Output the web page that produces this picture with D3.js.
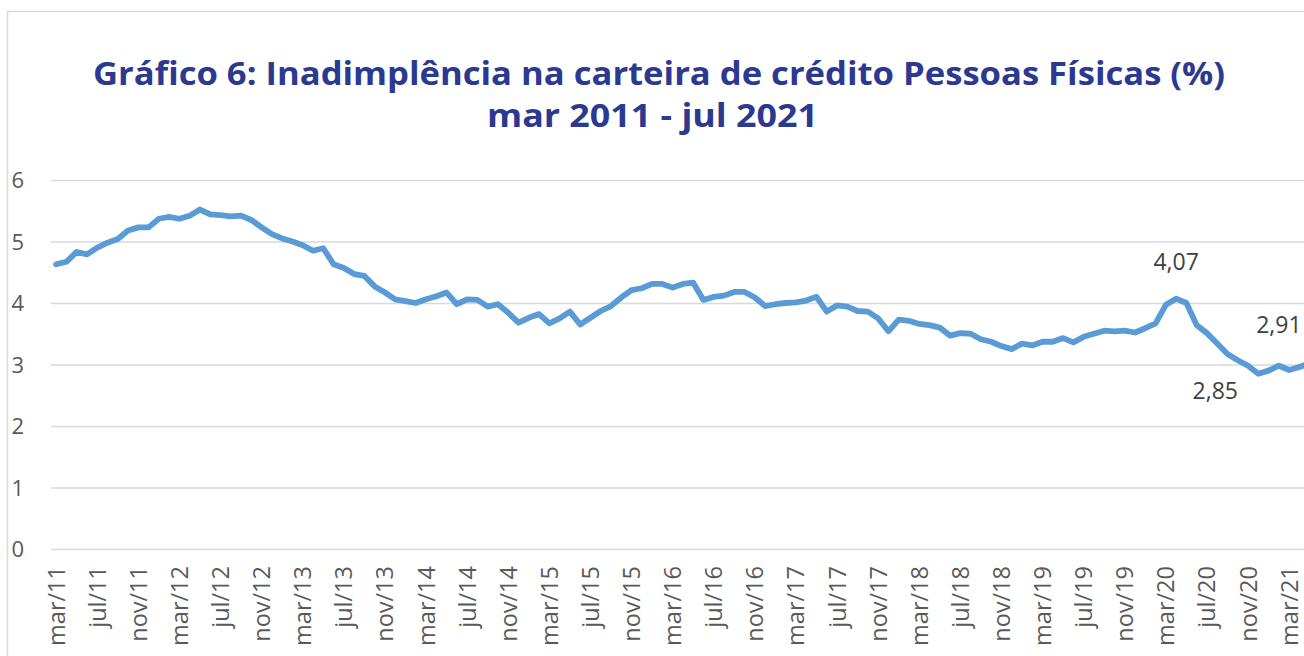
<!DOCTYPE html>
<html>
<head>
<meta charset="utf-8">
<script src="https://cdn.jsdelivr.net/npm/d3@7"></script>
<style>
  html, body { margin: 0; padding: 0; background: #fff; overflow: hidden; }
  svg { display: block; }
</style>
</head>
<body>
<svg id="chart" width="1304" height="656"></svg>
<script>
// ---- Data ----
const titleLines = ["Gráfico 6: Inadimplência na carteira de crédito Pessoas Físicas (%)", "mar 2011 - jul 2021"];
const monthNames = ["jan","fev","mar","abr","mai","jun","jul","ago","set","out","nov","dez"];
// monthly categories mar/2011 .. jul/2021
const categories = d3.timeMonth.range(new Date(2011, 2, 1), new Date(2021, 7, 1))
  .map(d => monthNames[d.getMonth()] + "/" + String(d.getFullYear()).slice(2));
const values = [
  4.63, 4.67, 4.83, 4.79, 4.90, 4.98, 5.04, 5.18, 5.23, 5.23,
  5.37, 5.40, 5.37, 5.42, 5.52, 5.44, 5.43, 5.41, 5.42, 5.35,
  5.23, 5.12, 5.05, 5.00, 4.94, 4.85, 4.89, 4.63, 4.57, 4.47,
  4.44, 4.27, 4.17, 4.06, 4.03, 4.00, 4.06, 4.11, 4.17, 3.98,
  4.06, 4.05, 3.94, 3.98, 3.84, 3.68, 3.76, 3.82, 3.67, 3.75,
  3.86, 3.65, 3.76, 3.87, 3.95, 4.09, 4.21, 4.24, 4.31, 4.31,
  4.25, 4.31, 4.33, 4.05, 4.10, 4.12, 4.18, 4.18, 4.09, 3.95,
  3.98, 4.00, 4.01, 4.04, 4.10, 3.86, 3.96, 3.94, 3.87, 3.86,
  3.75, 3.54, 3.73, 3.71, 3.66, 3.64, 3.60, 3.47, 3.51, 3.50,
  3.41, 3.37, 3.30, 3.25, 3.34, 3.31, 3.37, 3.37, 3.43, 3.36,
  3.45, 3.50, 3.55, 3.54, 3.55, 3.52, 3.59, 3.67, 3.97, 4.07,
  4.00, 3.64, 3.51, 3.34, 3.17, 3.07, 2.98, 2.85, 2.90, 2.98,
  2.91, 2.96, 3.02, 3.05, 3.08
];
const yTicks = [0, 1, 2, 3, 4, 5, 6];
const labelTickStep = 4;
const annotated = [
  { cat: "abr/20", text: "4,07" },
  { cat: "dez/20", text: "2,85" },
  { cat: "mar/21", text: "2,91" }
];

// ---- Layout ----
const W = 1304, H = 656;
const plotLeft = 51, catWidth = 10.275;
const svg = d3.select("#chart");

const x = d3.scaleBand()
  .domain(categories)
  .range([plotLeft, plotLeft + catWidth * categories.length])
  .padding(0);
const xc = c => x(c) + x.bandwidth() / 2;
const y = d3.scaleLinear().domain([0, 6]).range([549, 180]);

// frame
svg.append("path")
  .attr("d", `M7.5,${H} L7.5,11.5 L${W},11.5`)
  .attr("fill", "none").attr("stroke", "#D9D9D9").attr("stroke-width", 1.5);

// title
svg.append("text")
  .attr("x", 93).attr("y", 85)
  .attr("textLength", 1132).attr("lengthAdjust", "spacingAndGlyphs")
  .attr("font-family", "'Open Sans', sans-serif")
  .attr("font-weight", "bold").attr("font-size", 33)
  .attr("fill", "#2B3990")
  .text(titleLines[0]);
svg.append("text")
  .attr("x", 487).attr("y", 127)
  .attr("textLength", 331).attr("lengthAdjust", "spacingAndGlyphs")
  .attr("font-family", "'Open Sans', sans-serif")
  .attr("font-weight", "bold").attr("font-size", 33)
  .attr("fill", "#2B3990")
  .text(titleLines[1]);

// y axis with gridlines
const yAxis = d3.axisLeft(y).tickValues(yTicks).tickSize(-(W - plotLeft)).tickPadding(27).tickFormat(d3.format("d"));
const gy = svg.append("g").attr("transform", `translate(${plotLeft},0)`).call(yAxis);
gy.select(".domain").remove();
gy.selectAll(".tick line").attr("stroke", "#D9D9D9").attr("stroke-width", 1.6);
gy.selectAll(".tick text")
  .attr("font-family", "'Open Sans', sans-serif").attr("font-size", 22)
  .attr("fill", "#595959").attr("dy", "0.36em");

// x axis labels
const tickCats = categories.filter((c, i) => i % labelTickStep === 0 && xc(c) < W - 4);
const xAxis = d3.axisBottom(x).tickValues(tickCats).tickSize(0).tickPadding(0);
const gx = svg.append("g").attr("transform", `translate(0,549)`).call(xAxis);
gx.select(".domain").remove();
gx.selectAll(".tick text")
  .attr("font-family", "'Open Sans', sans-serif").attr("font-size", 23.5)
  .attr("fill", "#595959")
  .attr("text-anchor", "end")
  .attr("transform", "rotate(-90)")
  .attr("x", -17).attr("y", 0).attr("dy", "0.36em");

// line
const line = d3.line()
  .x((d, i) => xc(categories[i]))
  .y(d => y(d));
svg.append("path")
  .datum(values)
  .attr("d", line)
  .attr("fill", "none")
  .attr("stroke", "#5B9BD5")
  .attr("stroke-width", 5.8)
  .attr("stroke-linejoin", "round")
  .attr("stroke-linecap", "round");

// data labels
const labelOffsets = { "4,07": [0, -29, "middle"], "2,85": [-43, 25, "middle"], "2,91": [-33, -37, "start"] };
annotated.forEach(a => {
  const i = categories.indexOf(a.cat);
  const o = labelOffsets[a.text];
  svg.append("text")
    .attr("x", xc(a.cat) + o[0])
    .attr("y", y(values[i]) + o[1])
    .attr("text-anchor", o[2])
    .attr("font-family", "'Open Sans', sans-serif").attr("font-size", 23)
    .attr("fill", "#404040")
    .text(a.text);
});
</script>
</body>
</html>
